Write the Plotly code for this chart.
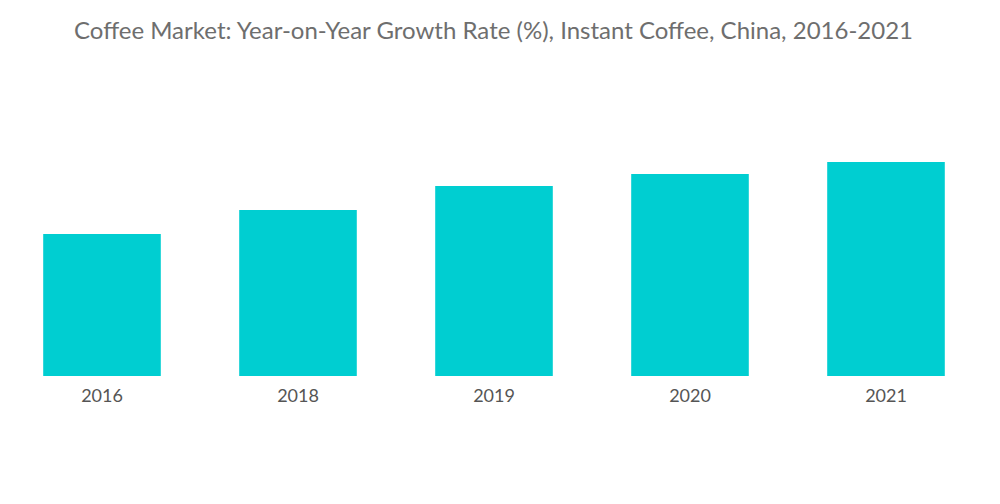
import plotly.graph_objects as go

years = ["2016", "2018", "2019", "2020", "2021"]
growth = [14.2, 16.6, 19.0, 20.2, 21.4]

fig = go.Figure(go.Bar(
    x=years, y=growth,
    marker=dict(color="#00CED1", line=dict(width=0)),
    hoverinfo="skip",
))

fig.update_layout(
    width=1000, height=504,
    paper_bgcolor="white", plot_bgcolor="white",
    margin=dict(l=0, r=16, t=72, b=136),
    bargap=0.4,
    showlegend=False,
    title=dict(
        text="Coffee Market: Year-on-Year Growth Rate (%), Instant Coffee, China, 2016-2021",
        x=0.4855, xanchor="center", y=0.956, yanchor="middle",
        font=dict(family="Lato", size=24, color="#6e6e6e"),
    ),
)
fig.update_xaxes(type="category", range=[-0.4796, 4.5408],
                 showgrid=False, showline=False, zeroline=False,
                 ticks="", ticklabelstandoff=7,
                 tickfont=dict(family="Lato", size=18, color="#555555"))
fig.update_yaxes(visible=False, range=[0, 29.6])

fig.write_html("out.html")
